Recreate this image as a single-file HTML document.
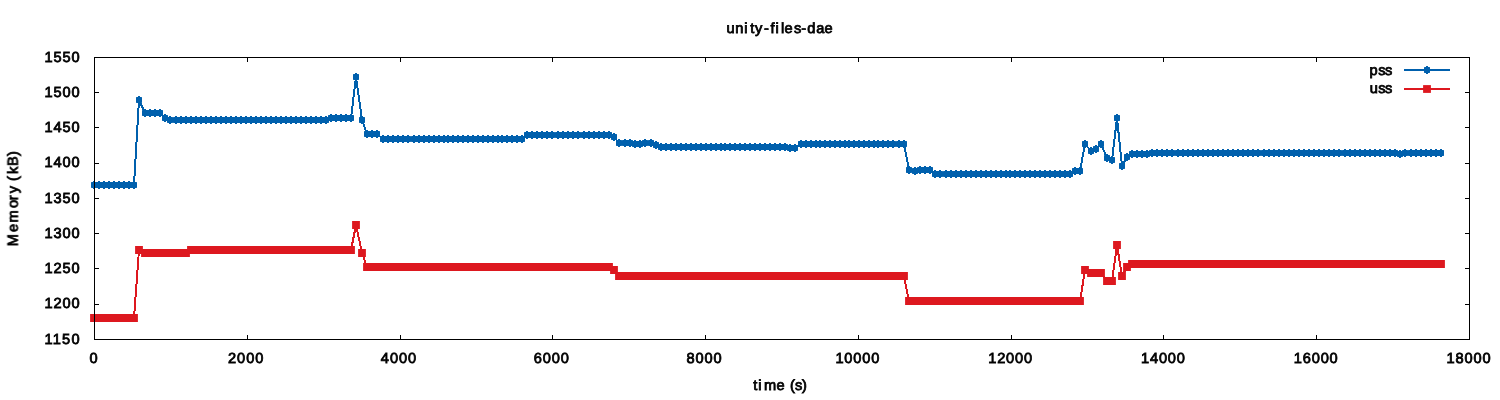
<!DOCTYPE html>
<html><head><meta charset="utf-8"><title>unity-files-dae</title>
<style>
html,body{margin:0;padding:0;background:#fff;}
body{width:1500px;height:400px;overflow:hidden;}
svg{display:block;}
text{font-family:"Liberation Sans",sans-serif;font-size:14.6px;text-rendering:geometricPrecision;fill:#000;stroke:#000;stroke-width:0.8px;}
.tx{filter:grayscale(1);}
</style></head><body>
<svg width="1500" height="400" viewBox="0 0 1500 400">
<rect x="0" y="0" width="1500" height="400" fill="#fff"/>
<g class="tx">
<text x="93.5" y="363.0" text-anchor="middle" textLength="8.4" lengthAdjust="spacing">0</text>
<text x="245.68" y="363.0" text-anchor="middle" textLength="35.2" lengthAdjust="spacing">2000</text>
<text x="398.46" y="363.0" text-anchor="middle" textLength="35.2" lengthAdjust="spacing">4000</text>
<text x="551.23" y="363.0" text-anchor="middle" textLength="35.2" lengthAdjust="spacing">6000</text>
<text x="704.01" y="363.0" text-anchor="middle" textLength="35.2" lengthAdjust="spacing">8000</text>
<text x="857.39" y="363.0" text-anchor="middle" textLength="44" lengthAdjust="spacing">10000</text>
<text x="1010.17" y="363.0" text-anchor="middle" textLength="44" lengthAdjust="spacing">12000</text>
<text x="1162.94" y="363.0" text-anchor="middle" textLength="44" lengthAdjust="spacing">14000</text>
<text x="1315.72" y="363.0" text-anchor="middle" textLength="44" lengthAdjust="spacing">16000</text>
<text x="1468.5" y="363.0" text-anchor="middle" textLength="44" lengthAdjust="spacing">18000</text>
<text x="79.6" y="343.65" text-anchor="end" textLength="35.2" lengthAdjust="spacing">1150</text>
<text x="79.6" y="308.4" text-anchor="end" textLength="35.2" lengthAdjust="spacing">1200</text>
<text x="79.6" y="273.15" text-anchor="end" textLength="35.2" lengthAdjust="spacing">1250</text>
<text x="79.6" y="237.9" text-anchor="end" textLength="35.2" lengthAdjust="spacing">1300</text>
<text x="79.6" y="202.65" text-anchor="end" textLength="35.2" lengthAdjust="spacing">1350</text>
<text x="79.6" y="167.4" text-anchor="end" textLength="35.2" lengthAdjust="spacing">1400</text>
<text x="79.6" y="132.15" text-anchor="end" textLength="35.2" lengthAdjust="spacing">1450</text>
<text x="79.6" y="96.9" text-anchor="end" textLength="35.2" lengthAdjust="spacing">1500</text>
<text x="79.6" y="61.65" text-anchor="end" textLength="35.2" lengthAdjust="spacing">1550</text>
<text x="726.55 735.35 744.35 750.25 754.9 764 770.4 775.5 780.95 784.4 794 801.15 807.2 816.35 824.45" y="32.7">unity-files-dae</text>
<text x="753.35 758.3 764.05 776.55 790.1 795 801.95" y="390">time(s)</text>
<text transform="translate(17.7 300) rotate(-90)" x="53.65 67.9 77.55 92.08 99.75 106.83 118.95 125.93 133.9 143.95" y="0">Memory(kB)</text>
<text x="1369.5 1378.25 1385" y="74.7">pss</text>
<text x="1369.7 1378.25 1385" y="93.4">uss</text>
</g>
<path d="M1404 70H1450" stroke="#0060ad" stroke-width="2" fill="none"/>
<path d="M1426 66h2v1h1.5l.5.5v5l-.5.5h-1.5v1h-2v-1h-1.5l-.5-.5v-5l.5-.5h1.5z" fill="#0060ad"/>
<path d="M1404 89H1450" stroke="#dd181f" stroke-width="2" fill="none"/>
<rect x="1423.1" y="85.1" width="7.8" height="7.8" fill="#dd181f"/>
<path d="M94 185 L99 185 L104 185 L109 185 L114 185 L119 185 L124 185 L129 185 L134 185 L139 100 L145 113 L150 113 L155 113 L160 113 L165 118 L170 120 L176 120 L181 120 L186 120 L191 120 L196 120 L201 120 L206 120 L211 120 L216 120 L221 120 L226 120 L231 120 L236 120 L241 120 L246 120 L251 120 L256 120 L261 120 L266 120 L271 120 L276 120 L281 120 L286 120 L291 120 L296 120 L301 120 L306 120 L311 120 L316 120 L321 120 L326 120 L331 118 L336 118 L341 118 L346 118 L351 118 L356 77 L362 120 L367 134 L372 134 L377 134 L383 139 L388 139 L393 139 L398 139 L403 139 L408 139 L414 139 L419 139 L424 139 L429 139 L434 139 L439 139 L444 139 L448 139 L453 139 L458 139 L463 139 L468 139 L473 139 L478 139 L483 139 L488 139 L493 139 L498 139 L502 139 L507 139 L512 139 L517 139 L522 139 L527 135 L532 135 L537 135 L542 135 L547 135 L552 135 L558 135 L563 135 L568 135 L573 135 L578 135 L584 135 L589 135 L594 135 L599 135 L604 135 L609 135 L614 137 L619 143 L625 143 L630 143 L635 144 L640 144 L645 143 L651 143 L656 145 L661 147 L666 147 L671 147 L676 147 L681 147 L686 147 L691 147 L696 147 L701 147 L706 147 L711 147 L716 147 L721 147 L725 147 L730 147 L735 147 L740 147 L745 147 L750 147 L755 147 L760 147 L765 147 L770 147 L775 147 L780 147 L785 147 L790 148 L795 148 L801 144 L806 144 L811 144 L816 144 L820 144 L825 144 L830 144 L835 144 L840 144 L845 144 L849 144 L854 144 L859 144 L864 144 L869 144 L874 144 L878 144 L883 144 L888 144 L893 144 L899 144 L904 144 L909 170 L915 171 L920 170 L925 170 L930 170 L935 174 L940 174 L946 174 L951 174 L956 174 L961 174 L966 174 L971 174 L976 174 L981 174 L986 174 L991 174 L996 174 L1001 174 L1006 174 L1010 174 L1015 174 L1020 174 L1025 174 L1030 174 L1035 174 L1040 174 L1045 174 L1050 174 L1055 174 L1060 174 L1065 174 L1070 174 L1075 171 L1080 171 L1085 144 L1091 151 L1096 149 L1101 144 L1107 158 L1112 160 L1117 118 L1122 166 L1127 157 L1132 154 L1137 154 L1142 154 L1147 154 L1152 153 L1157 153 L1162 153 L1167 153 L1172 153 L1178 153 L1183 153 L1188 153 L1193 153 L1198 153 L1203 153 L1208 153 L1213 153 L1218 153 L1223 153 L1228 153 L1233 153 L1238 153 L1243 153 L1248 153 L1253 153 L1258 153 L1264 153 L1269 153 L1274 153 L1279 153 L1284 153 L1289 153 L1294 153 L1299 153 L1304 153 L1309 153 L1314 153 L1319 153 L1324 153 L1329 153 L1334 153 L1339 153 L1345 153 L1350 153 L1355 153 L1360 153 L1365 153 L1370 153 L1375 153 L1380 153 L1385 153 L1390 153 L1395 153 L1400 154 L1405 153 L1411 153 L1416 153 L1421 153 L1426 153 L1431 153 L1436 153 L1441 153" stroke="#0060ad" stroke-width="2" fill="none" stroke-linejoin="round" shape-rendering="crispEdges"/>
<path d="M93 181h2v1h1.5l.5.5v5l-.5.5h-1.5v1h-2v-1h-1.5l-.5-.5v-5l.5-.5h1.5zM98 181h2v1h1.5l.5.5v5l-.5.5h-1.5v1h-2v-1h-1.5l-.5-.5v-5l.5-.5h1.5zM103 181h2v1h1.5l.5.5v5l-.5.5h-1.5v1h-2v-1h-1.5l-.5-.5v-5l.5-.5h1.5zM108 181h2v1h1.5l.5.5v5l-.5.5h-1.5v1h-2v-1h-1.5l-.5-.5v-5l.5-.5h1.5zM113 181h2v1h1.5l.5.5v5l-.5.5h-1.5v1h-2v-1h-1.5l-.5-.5v-5l.5-.5h1.5zM118 181h2v1h1.5l.5.5v5l-.5.5h-1.5v1h-2v-1h-1.5l-.5-.5v-5l.5-.5h1.5zM123 181h2v1h1.5l.5.5v5l-.5.5h-1.5v1h-2v-1h-1.5l-.5-.5v-5l.5-.5h1.5zM128 181h2v1h1.5l.5.5v5l-.5.5h-1.5v1h-2v-1h-1.5l-.5-.5v-5l.5-.5h1.5zM133 181h2v1h1.5l.5.5v5l-.5.5h-1.5v1h-2v-1h-1.5l-.5-.5v-5l.5-.5h1.5zM138 96h2v1h1.5l.5.5v5l-.5.5h-1.5v1h-2v-1h-1.5l-.5-.5v-5l.5-.5h1.5zM144 109h2v1h1.5l.5.5v5l-.5.5h-1.5v1h-2v-1h-1.5l-.5-.5v-5l.5-.5h1.5zM149 109h2v1h1.5l.5.5v5l-.5.5h-1.5v1h-2v-1h-1.5l-.5-.5v-5l.5-.5h1.5zM154 109h2v1h1.5l.5.5v5l-.5.5h-1.5v1h-2v-1h-1.5l-.5-.5v-5l.5-.5h1.5zM159 109h2v1h1.5l.5.5v5l-.5.5h-1.5v1h-2v-1h-1.5l-.5-.5v-5l.5-.5h1.5zM164 114h2v1h1.5l.5.5v5l-.5.5h-1.5v1h-2v-1h-1.5l-.5-.5v-5l.5-.5h1.5zM169 116h2v1h1.5l.5.5v5l-.5.5h-1.5v1h-2v-1h-1.5l-.5-.5v-5l.5-.5h1.5zM175 116h2v1h1.5l.5.5v5l-.5.5h-1.5v1h-2v-1h-1.5l-.5-.5v-5l.5-.5h1.5zM180 116h2v1h1.5l.5.5v5l-.5.5h-1.5v1h-2v-1h-1.5l-.5-.5v-5l.5-.5h1.5zM185 116h2v1h1.5l.5.5v5l-.5.5h-1.5v1h-2v-1h-1.5l-.5-.5v-5l.5-.5h1.5zM190 116h2v1h1.5l.5.5v5l-.5.5h-1.5v1h-2v-1h-1.5l-.5-.5v-5l.5-.5h1.5zM195 116h2v1h1.5l.5.5v5l-.5.5h-1.5v1h-2v-1h-1.5l-.5-.5v-5l.5-.5h1.5zM200 116h2v1h1.5l.5.5v5l-.5.5h-1.5v1h-2v-1h-1.5l-.5-.5v-5l.5-.5h1.5zM205 116h2v1h1.5l.5.5v5l-.5.5h-1.5v1h-2v-1h-1.5l-.5-.5v-5l.5-.5h1.5zM210 116h2v1h1.5l.5.5v5l-.5.5h-1.5v1h-2v-1h-1.5l-.5-.5v-5l.5-.5h1.5zM215 116h2v1h1.5l.5.5v5l-.5.5h-1.5v1h-2v-1h-1.5l-.5-.5v-5l.5-.5h1.5zM220 116h2v1h1.5l.5.5v5l-.5.5h-1.5v1h-2v-1h-1.5l-.5-.5v-5l.5-.5h1.5zM225 116h2v1h1.5l.5.5v5l-.5.5h-1.5v1h-2v-1h-1.5l-.5-.5v-5l.5-.5h1.5zM230 116h2v1h1.5l.5.5v5l-.5.5h-1.5v1h-2v-1h-1.5l-.5-.5v-5l.5-.5h1.5zM235 116h2v1h1.5l.5.5v5l-.5.5h-1.5v1h-2v-1h-1.5l-.5-.5v-5l.5-.5h1.5zM240 116h2v1h1.5l.5.5v5l-.5.5h-1.5v1h-2v-1h-1.5l-.5-.5v-5l.5-.5h1.5zM245 116h2v1h1.5l.5.5v5l-.5.5h-1.5v1h-2v-1h-1.5l-.5-.5v-5l.5-.5h1.5zM250 116h2v1h1.5l.5.5v5l-.5.5h-1.5v1h-2v-1h-1.5l-.5-.5v-5l.5-.5h1.5zM255 116h2v1h1.5l.5.5v5l-.5.5h-1.5v1h-2v-1h-1.5l-.5-.5v-5l.5-.5h1.5zM260 116h2v1h1.5l.5.5v5l-.5.5h-1.5v1h-2v-1h-1.5l-.5-.5v-5l.5-.5h1.5zM265 116h2v1h1.5l.5.5v5l-.5.5h-1.5v1h-2v-1h-1.5l-.5-.5v-5l.5-.5h1.5zM270 116h2v1h1.5l.5.5v5l-.5.5h-1.5v1h-2v-1h-1.5l-.5-.5v-5l.5-.5h1.5zM275 116h2v1h1.5l.5.5v5l-.5.5h-1.5v1h-2v-1h-1.5l-.5-.5v-5l.5-.5h1.5zM280 116h2v1h1.5l.5.5v5l-.5.5h-1.5v1h-2v-1h-1.5l-.5-.5v-5l.5-.5h1.5zM285 116h2v1h1.5l.5.5v5l-.5.5h-1.5v1h-2v-1h-1.5l-.5-.5v-5l.5-.5h1.5zM290 116h2v1h1.5l.5.5v5l-.5.5h-1.5v1h-2v-1h-1.5l-.5-.5v-5l.5-.5h1.5zM295 116h2v1h1.5l.5.5v5l-.5.5h-1.5v1h-2v-1h-1.5l-.5-.5v-5l.5-.5h1.5zM300 116h2v1h1.5l.5.5v5l-.5.5h-1.5v1h-2v-1h-1.5l-.5-.5v-5l.5-.5h1.5zM305 116h2v1h1.5l.5.5v5l-.5.5h-1.5v1h-2v-1h-1.5l-.5-.5v-5l.5-.5h1.5zM310 116h2v1h1.5l.5.5v5l-.5.5h-1.5v1h-2v-1h-1.5l-.5-.5v-5l.5-.5h1.5zM315 116h2v1h1.5l.5.5v5l-.5.5h-1.5v1h-2v-1h-1.5l-.5-.5v-5l.5-.5h1.5zM320 116h2v1h1.5l.5.5v5l-.5.5h-1.5v1h-2v-1h-1.5l-.5-.5v-5l.5-.5h1.5zM325 116h2v1h1.5l.5.5v5l-.5.5h-1.5v1h-2v-1h-1.5l-.5-.5v-5l.5-.5h1.5zM330 114h2v1h1.5l.5.5v5l-.5.5h-1.5v1h-2v-1h-1.5l-.5-.5v-5l.5-.5h1.5zM335 114h2v1h1.5l.5.5v5l-.5.5h-1.5v1h-2v-1h-1.5l-.5-.5v-5l.5-.5h1.5zM340 114h2v1h1.5l.5.5v5l-.5.5h-1.5v1h-2v-1h-1.5l-.5-.5v-5l.5-.5h1.5zM345 114h2v1h1.5l.5.5v5l-.5.5h-1.5v1h-2v-1h-1.5l-.5-.5v-5l.5-.5h1.5zM350 114h2v1h1.5l.5.5v5l-.5.5h-1.5v1h-2v-1h-1.5l-.5-.5v-5l.5-.5h1.5zM355 73h2v1h1.5l.5.5v5l-.5.5h-1.5v1h-2v-1h-1.5l-.5-.5v-5l.5-.5h1.5zM361 116h2v1h1.5l.5.5v5l-.5.5h-1.5v1h-2v-1h-1.5l-.5-.5v-5l.5-.5h1.5zM366 130h2v1h1.5l.5.5v5l-.5.5h-1.5v1h-2v-1h-1.5l-.5-.5v-5l.5-.5h1.5zM371 130h2v1h1.5l.5.5v5l-.5.5h-1.5v1h-2v-1h-1.5l-.5-.5v-5l.5-.5h1.5zM376 130h2v1h1.5l.5.5v5l-.5.5h-1.5v1h-2v-1h-1.5l-.5-.5v-5l.5-.5h1.5zM382 135h2v1h1.5l.5.5v5l-.5.5h-1.5v1h-2v-1h-1.5l-.5-.5v-5l.5-.5h1.5zM387 135h2v1h1.5l.5.5v5l-.5.5h-1.5v1h-2v-1h-1.5l-.5-.5v-5l.5-.5h1.5zM392 135h2v1h1.5l.5.5v5l-.5.5h-1.5v1h-2v-1h-1.5l-.5-.5v-5l.5-.5h1.5zM397 135h2v1h1.5l.5.5v5l-.5.5h-1.5v1h-2v-1h-1.5l-.5-.5v-5l.5-.5h1.5zM402 135h2v1h1.5l.5.5v5l-.5.5h-1.5v1h-2v-1h-1.5l-.5-.5v-5l.5-.5h1.5zM407 135h2v1h1.5l.5.5v5l-.5.5h-1.5v1h-2v-1h-1.5l-.5-.5v-5l.5-.5h1.5zM413 135h2v1h1.5l.5.5v5l-.5.5h-1.5v1h-2v-1h-1.5l-.5-.5v-5l.5-.5h1.5zM418 135h2v1h1.5l.5.5v5l-.5.5h-1.5v1h-2v-1h-1.5l-.5-.5v-5l.5-.5h1.5zM423 135h2v1h1.5l.5.5v5l-.5.5h-1.5v1h-2v-1h-1.5l-.5-.5v-5l.5-.5h1.5zM428 135h2v1h1.5l.5.5v5l-.5.5h-1.5v1h-2v-1h-1.5l-.5-.5v-5l.5-.5h1.5zM433 135h2v1h1.5l.5.5v5l-.5.5h-1.5v1h-2v-1h-1.5l-.5-.5v-5l.5-.5h1.5zM438 135h2v1h1.5l.5.5v5l-.5.5h-1.5v1h-2v-1h-1.5l-.5-.5v-5l.5-.5h1.5zM443 135h2v1h1.5l.5.5v5l-.5.5h-1.5v1h-2v-1h-1.5l-.5-.5v-5l.5-.5h1.5zM447 135h2v1h1.5l.5.5v5l-.5.5h-1.5v1h-2v-1h-1.5l-.5-.5v-5l.5-.5h1.5zM452 135h2v1h1.5l.5.5v5l-.5.5h-1.5v1h-2v-1h-1.5l-.5-.5v-5l.5-.5h1.5zM457 135h2v1h1.5l.5.5v5l-.5.5h-1.5v1h-2v-1h-1.5l-.5-.5v-5l.5-.5h1.5zM462 135h2v1h1.5l.5.5v5l-.5.5h-1.5v1h-2v-1h-1.5l-.5-.5v-5l.5-.5h1.5zM467 135h2v1h1.5l.5.5v5l-.5.5h-1.5v1h-2v-1h-1.5l-.5-.5v-5l.5-.5h1.5zM472 135h2v1h1.5l.5.5v5l-.5.5h-1.5v1h-2v-1h-1.5l-.5-.5v-5l.5-.5h1.5zM477 135h2v1h1.5l.5.5v5l-.5.5h-1.5v1h-2v-1h-1.5l-.5-.5v-5l.5-.5h1.5zM482 135h2v1h1.5l.5.5v5l-.5.5h-1.5v1h-2v-1h-1.5l-.5-.5v-5l.5-.5h1.5zM487 135h2v1h1.5l.5.5v5l-.5.5h-1.5v1h-2v-1h-1.5l-.5-.5v-5l.5-.5h1.5zM492 135h2v1h1.5l.5.5v5l-.5.5h-1.5v1h-2v-1h-1.5l-.5-.5v-5l.5-.5h1.5zM497 135h2v1h1.5l.5.5v5l-.5.5h-1.5v1h-2v-1h-1.5l-.5-.5v-5l.5-.5h1.5zM501 135h2v1h1.5l.5.5v5l-.5.5h-1.5v1h-2v-1h-1.5l-.5-.5v-5l.5-.5h1.5zM506 135h2v1h1.5l.5.5v5l-.5.5h-1.5v1h-2v-1h-1.5l-.5-.5v-5l.5-.5h1.5zM511 135h2v1h1.5l.5.5v5l-.5.5h-1.5v1h-2v-1h-1.5l-.5-.5v-5l.5-.5h1.5zM516 135h2v1h1.5l.5.5v5l-.5.5h-1.5v1h-2v-1h-1.5l-.5-.5v-5l.5-.5h1.5zM521 135h2v1h1.5l.5.5v5l-.5.5h-1.5v1h-2v-1h-1.5l-.5-.5v-5l.5-.5h1.5zM526 131h2v1h1.5l.5.5v5l-.5.5h-1.5v1h-2v-1h-1.5l-.5-.5v-5l.5-.5h1.5zM531 131h2v1h1.5l.5.5v5l-.5.5h-1.5v1h-2v-1h-1.5l-.5-.5v-5l.5-.5h1.5zM536 131h2v1h1.5l.5.5v5l-.5.5h-1.5v1h-2v-1h-1.5l-.5-.5v-5l.5-.5h1.5zM541 131h2v1h1.5l.5.5v5l-.5.5h-1.5v1h-2v-1h-1.5l-.5-.5v-5l.5-.5h1.5zM546 131h2v1h1.5l.5.5v5l-.5.5h-1.5v1h-2v-1h-1.5l-.5-.5v-5l.5-.5h1.5zM551 131h2v1h1.5l.5.5v5l-.5.5h-1.5v1h-2v-1h-1.5l-.5-.5v-5l.5-.5h1.5zM557 131h2v1h1.5l.5.5v5l-.5.5h-1.5v1h-2v-1h-1.5l-.5-.5v-5l.5-.5h1.5zM562 131h2v1h1.5l.5.5v5l-.5.5h-1.5v1h-2v-1h-1.5l-.5-.5v-5l.5-.5h1.5zM567 131h2v1h1.5l.5.5v5l-.5.5h-1.5v1h-2v-1h-1.5l-.5-.5v-5l.5-.5h1.5zM572 131h2v1h1.5l.5.5v5l-.5.5h-1.5v1h-2v-1h-1.5l-.5-.5v-5l.5-.5h1.5zM577 131h2v1h1.5l.5.5v5l-.5.5h-1.5v1h-2v-1h-1.5l-.5-.5v-5l.5-.5h1.5zM583 131h2v1h1.5l.5.5v5l-.5.5h-1.5v1h-2v-1h-1.5l-.5-.5v-5l.5-.5h1.5zM588 131h2v1h1.5l.5.5v5l-.5.5h-1.5v1h-2v-1h-1.5l-.5-.5v-5l.5-.5h1.5zM593 131h2v1h1.5l.5.5v5l-.5.5h-1.5v1h-2v-1h-1.5l-.5-.5v-5l.5-.5h1.5zM598 131h2v1h1.5l.5.5v5l-.5.5h-1.5v1h-2v-1h-1.5l-.5-.5v-5l.5-.5h1.5zM603 131h2v1h1.5l.5.5v5l-.5.5h-1.5v1h-2v-1h-1.5l-.5-.5v-5l.5-.5h1.5zM608 131h2v1h1.5l.5.5v5l-.5.5h-1.5v1h-2v-1h-1.5l-.5-.5v-5l.5-.5h1.5zM613 133h2v1h1.5l.5.5v5l-.5.5h-1.5v1h-2v-1h-1.5l-.5-.5v-5l.5-.5h1.5zM618 139h2v1h1.5l.5.5v5l-.5.5h-1.5v1h-2v-1h-1.5l-.5-.5v-5l.5-.5h1.5zM624 139h2v1h1.5l.5.5v5l-.5.5h-1.5v1h-2v-1h-1.5l-.5-.5v-5l.5-.5h1.5zM629 139h2v1h1.5l.5.5v5l-.5.5h-1.5v1h-2v-1h-1.5l-.5-.5v-5l.5-.5h1.5zM634 140h2v1h1.5l.5.5v5l-.5.5h-1.5v1h-2v-1h-1.5l-.5-.5v-5l.5-.5h1.5zM639 140h2v1h1.5l.5.5v5l-.5.5h-1.5v1h-2v-1h-1.5l-.5-.5v-5l.5-.5h1.5zM644 139h2v1h1.5l.5.5v5l-.5.5h-1.5v1h-2v-1h-1.5l-.5-.5v-5l.5-.5h1.5zM650 139h2v1h1.5l.5.5v5l-.5.5h-1.5v1h-2v-1h-1.5l-.5-.5v-5l.5-.5h1.5zM655 141h2v1h1.5l.5.5v5l-.5.5h-1.5v1h-2v-1h-1.5l-.5-.5v-5l.5-.5h1.5zM660 143h2v1h1.5l.5.5v5l-.5.5h-1.5v1h-2v-1h-1.5l-.5-.5v-5l.5-.5h1.5zM665 143h2v1h1.5l.5.5v5l-.5.5h-1.5v1h-2v-1h-1.5l-.5-.5v-5l.5-.5h1.5zM670 143h2v1h1.5l.5.5v5l-.5.5h-1.5v1h-2v-1h-1.5l-.5-.5v-5l.5-.5h1.5zM675 143h2v1h1.5l.5.5v5l-.5.5h-1.5v1h-2v-1h-1.5l-.5-.5v-5l.5-.5h1.5zM680 143h2v1h1.5l.5.5v5l-.5.5h-1.5v1h-2v-1h-1.5l-.5-.5v-5l.5-.5h1.5zM685 143h2v1h1.5l.5.5v5l-.5.5h-1.5v1h-2v-1h-1.5l-.5-.5v-5l.5-.5h1.5zM690 143h2v1h1.5l.5.5v5l-.5.5h-1.5v1h-2v-1h-1.5l-.5-.5v-5l.5-.5h1.5zM695 143h2v1h1.5l.5.5v5l-.5.5h-1.5v1h-2v-1h-1.5l-.5-.5v-5l.5-.5h1.5zM700 143h2v1h1.5l.5.5v5l-.5.5h-1.5v1h-2v-1h-1.5l-.5-.5v-5l.5-.5h1.5zM705 143h2v1h1.5l.5.5v5l-.5.5h-1.5v1h-2v-1h-1.5l-.5-.5v-5l.5-.5h1.5zM710 143h2v1h1.5l.5.5v5l-.5.5h-1.5v1h-2v-1h-1.5l-.5-.5v-5l.5-.5h1.5zM715 143h2v1h1.5l.5.5v5l-.5.5h-1.5v1h-2v-1h-1.5l-.5-.5v-5l.5-.5h1.5zM720 143h2v1h1.5l.5.5v5l-.5.5h-1.5v1h-2v-1h-1.5l-.5-.5v-5l.5-.5h1.5zM724 143h2v1h1.5l.5.5v5l-.5.5h-1.5v1h-2v-1h-1.5l-.5-.5v-5l.5-.5h1.5zM729 143h2v1h1.5l.5.5v5l-.5.5h-1.5v1h-2v-1h-1.5l-.5-.5v-5l.5-.5h1.5zM734 143h2v1h1.5l.5.5v5l-.5.5h-1.5v1h-2v-1h-1.5l-.5-.5v-5l.5-.5h1.5zM739 143h2v1h1.5l.5.5v5l-.5.5h-1.5v1h-2v-1h-1.5l-.5-.5v-5l.5-.5h1.5zM744 143h2v1h1.5l.5.5v5l-.5.5h-1.5v1h-2v-1h-1.5l-.5-.5v-5l.5-.5h1.5zM749 143h2v1h1.5l.5.5v5l-.5.5h-1.5v1h-2v-1h-1.5l-.5-.5v-5l.5-.5h1.5zM754 143h2v1h1.5l.5.5v5l-.5.5h-1.5v1h-2v-1h-1.5l-.5-.5v-5l.5-.5h1.5zM759 143h2v1h1.5l.5.5v5l-.5.5h-1.5v1h-2v-1h-1.5l-.5-.5v-5l.5-.5h1.5zM764 143h2v1h1.5l.5.5v5l-.5.5h-1.5v1h-2v-1h-1.5l-.5-.5v-5l.5-.5h1.5zM769 143h2v1h1.5l.5.5v5l-.5.5h-1.5v1h-2v-1h-1.5l-.5-.5v-5l.5-.5h1.5zM774 143h2v1h1.5l.5.5v5l-.5.5h-1.5v1h-2v-1h-1.5l-.5-.5v-5l.5-.5h1.5zM779 143h2v1h1.5l.5.5v5l-.5.5h-1.5v1h-2v-1h-1.5l-.5-.5v-5l.5-.5h1.5zM784 143h2v1h1.5l.5.5v5l-.5.5h-1.5v1h-2v-1h-1.5l-.5-.5v-5l.5-.5h1.5zM789 144h2v1h1.5l.5.5v5l-.5.5h-1.5v1h-2v-1h-1.5l-.5-.5v-5l.5-.5h1.5zM794 144h2v1h1.5l.5.5v5l-.5.5h-1.5v1h-2v-1h-1.5l-.5-.5v-5l.5-.5h1.5zM800 140h2v1h1.5l.5.5v5l-.5.5h-1.5v1h-2v-1h-1.5l-.5-.5v-5l.5-.5h1.5zM805 140h2v1h1.5l.5.5v5l-.5.5h-1.5v1h-2v-1h-1.5l-.5-.5v-5l.5-.5h1.5zM810 140h2v1h1.5l.5.5v5l-.5.5h-1.5v1h-2v-1h-1.5l-.5-.5v-5l.5-.5h1.5zM815 140h2v1h1.5l.5.5v5l-.5.5h-1.5v1h-2v-1h-1.5l-.5-.5v-5l.5-.5h1.5zM819 140h2v1h1.5l.5.5v5l-.5.5h-1.5v1h-2v-1h-1.5l-.5-.5v-5l.5-.5h1.5zM824 140h2v1h1.5l.5.5v5l-.5.5h-1.5v1h-2v-1h-1.5l-.5-.5v-5l.5-.5h1.5zM829 140h2v1h1.5l.5.5v5l-.5.5h-1.5v1h-2v-1h-1.5l-.5-.5v-5l.5-.5h1.5zM834 140h2v1h1.5l.5.5v5l-.5.5h-1.5v1h-2v-1h-1.5l-.5-.5v-5l.5-.5h1.5zM839 140h2v1h1.5l.5.5v5l-.5.5h-1.5v1h-2v-1h-1.5l-.5-.5v-5l.5-.5h1.5zM844 140h2v1h1.5l.5.5v5l-.5.5h-1.5v1h-2v-1h-1.5l-.5-.5v-5l.5-.5h1.5zM848 140h2v1h1.5l.5.5v5l-.5.5h-1.5v1h-2v-1h-1.5l-.5-.5v-5l.5-.5h1.5zM853 140h2v1h1.5l.5.5v5l-.5.5h-1.5v1h-2v-1h-1.5l-.5-.5v-5l.5-.5h1.5zM858 140h2v1h1.5l.5.5v5l-.5.5h-1.5v1h-2v-1h-1.5l-.5-.5v-5l.5-.5h1.5zM863 140h2v1h1.5l.5.5v5l-.5.5h-1.5v1h-2v-1h-1.5l-.5-.5v-5l.5-.5h1.5zM868 140h2v1h1.5l.5.5v5l-.5.5h-1.5v1h-2v-1h-1.5l-.5-.5v-5l.5-.5h1.5zM873 140h2v1h1.5l.5.5v5l-.5.5h-1.5v1h-2v-1h-1.5l-.5-.5v-5l.5-.5h1.5zM877 140h2v1h1.5l.5.5v5l-.5.5h-1.5v1h-2v-1h-1.5l-.5-.5v-5l.5-.5h1.5zM882 140h2v1h1.5l.5.5v5l-.5.5h-1.5v1h-2v-1h-1.5l-.5-.5v-5l.5-.5h1.5zM887 140h2v1h1.5l.5.5v5l-.5.5h-1.5v1h-2v-1h-1.5l-.5-.5v-5l.5-.5h1.5zM892 140h2v1h1.5l.5.5v5l-.5.5h-1.5v1h-2v-1h-1.5l-.5-.5v-5l.5-.5h1.5zM898 140h2v1h1.5l.5.5v5l-.5.5h-1.5v1h-2v-1h-1.5l-.5-.5v-5l.5-.5h1.5zM903 140h2v1h1.5l.5.5v5l-.5.5h-1.5v1h-2v-1h-1.5l-.5-.5v-5l.5-.5h1.5zM908 166h2v1h1.5l.5.5v5l-.5.5h-1.5v1h-2v-1h-1.5l-.5-.5v-5l.5-.5h1.5zM914 167h2v1h1.5l.5.5v5l-.5.5h-1.5v1h-2v-1h-1.5l-.5-.5v-5l.5-.5h1.5zM919 166h2v1h1.5l.5.5v5l-.5.5h-1.5v1h-2v-1h-1.5l-.5-.5v-5l.5-.5h1.5zM924 166h2v1h1.5l.5.5v5l-.5.5h-1.5v1h-2v-1h-1.5l-.5-.5v-5l.5-.5h1.5zM929 166h2v1h1.5l.5.5v5l-.5.5h-1.5v1h-2v-1h-1.5l-.5-.5v-5l.5-.5h1.5zM934 170h2v1h1.5l.5.5v5l-.5.5h-1.5v1h-2v-1h-1.5l-.5-.5v-5l.5-.5h1.5zM939 170h2v1h1.5l.5.5v5l-.5.5h-1.5v1h-2v-1h-1.5l-.5-.5v-5l.5-.5h1.5zM945 170h2v1h1.5l.5.5v5l-.5.5h-1.5v1h-2v-1h-1.5l-.5-.5v-5l.5-.5h1.5zM950 170h2v1h1.5l.5.5v5l-.5.5h-1.5v1h-2v-1h-1.5l-.5-.5v-5l.5-.5h1.5zM955 170h2v1h1.5l.5.5v5l-.5.5h-1.5v1h-2v-1h-1.5l-.5-.5v-5l.5-.5h1.5zM960 170h2v1h1.5l.5.5v5l-.5.5h-1.5v1h-2v-1h-1.5l-.5-.5v-5l.5-.5h1.5zM965 170h2v1h1.5l.5.5v5l-.5.5h-1.5v1h-2v-1h-1.5l-.5-.5v-5l.5-.5h1.5zM970 170h2v1h1.5l.5.5v5l-.5.5h-1.5v1h-2v-1h-1.5l-.5-.5v-5l.5-.5h1.5zM975 170h2v1h1.5l.5.5v5l-.5.5h-1.5v1h-2v-1h-1.5l-.5-.5v-5l.5-.5h1.5zM980 170h2v1h1.5l.5.5v5l-.5.5h-1.5v1h-2v-1h-1.5l-.5-.5v-5l.5-.5h1.5zM985 170h2v1h1.5l.5.5v5l-.5.5h-1.5v1h-2v-1h-1.5l-.5-.5v-5l.5-.5h1.5zM990 170h2v1h1.5l.5.5v5l-.5.5h-1.5v1h-2v-1h-1.5l-.5-.5v-5l.5-.5h1.5zM995 170h2v1h1.5l.5.5v5l-.5.5h-1.5v1h-2v-1h-1.5l-.5-.5v-5l.5-.5h1.5zM1000 170h2v1h1.5l.5.5v5l-.5.5h-1.5v1h-2v-1h-1.5l-.5-.5v-5l.5-.5h1.5zM1005 170h2v1h1.5l.5.5v5l-.5.5h-1.5v1h-2v-1h-1.5l-.5-.5v-5l.5-.5h1.5zM1009 170h2v1h1.5l.5.5v5l-.5.5h-1.5v1h-2v-1h-1.5l-.5-.5v-5l.5-.5h1.5zM1014 170h2v1h1.5l.5.5v5l-.5.5h-1.5v1h-2v-1h-1.5l-.5-.5v-5l.5-.5h1.5zM1019 170h2v1h1.5l.5.5v5l-.5.5h-1.5v1h-2v-1h-1.5l-.5-.5v-5l.5-.5h1.5zM1024 170h2v1h1.5l.5.5v5l-.5.5h-1.5v1h-2v-1h-1.5l-.5-.5v-5l.5-.5h1.5zM1029 170h2v1h1.5l.5.5v5l-.5.5h-1.5v1h-2v-1h-1.5l-.5-.5v-5l.5-.5h1.5zM1034 170h2v1h1.5l.5.5v5l-.5.5h-1.5v1h-2v-1h-1.5l-.5-.5v-5l.5-.5h1.5zM1039 170h2v1h1.5l.5.5v5l-.5.5h-1.5v1h-2v-1h-1.5l-.5-.5v-5l.5-.5h1.5zM1044 170h2v1h1.5l.5.5v5l-.5.5h-1.5v1h-2v-1h-1.5l-.5-.5v-5l.5-.5h1.5zM1049 170h2v1h1.5l.5.5v5l-.5.5h-1.5v1h-2v-1h-1.5l-.5-.5v-5l.5-.5h1.5zM1054 170h2v1h1.5l.5.5v5l-.5.5h-1.5v1h-2v-1h-1.5l-.5-.5v-5l.5-.5h1.5zM1059 170h2v1h1.5l.5.5v5l-.5.5h-1.5v1h-2v-1h-1.5l-.5-.5v-5l.5-.5h1.5zM1064 170h2v1h1.5l.5.5v5l-.5.5h-1.5v1h-2v-1h-1.5l-.5-.5v-5l.5-.5h1.5zM1069 170h2v1h1.5l.5.5v5l-.5.5h-1.5v1h-2v-1h-1.5l-.5-.5v-5l.5-.5h1.5zM1074 167h2v1h1.5l.5.5v5l-.5.5h-1.5v1h-2v-1h-1.5l-.5-.5v-5l.5-.5h1.5zM1079 167h2v1h1.5l.5.5v5l-.5.5h-1.5v1h-2v-1h-1.5l-.5-.5v-5l.5-.5h1.5zM1084 140h2v1h1.5l.5.5v5l-.5.5h-1.5v1h-2v-1h-1.5l-.5-.5v-5l.5-.5h1.5zM1090 147h2v1h1.5l.5.5v5l-.5.5h-1.5v1h-2v-1h-1.5l-.5-.5v-5l.5-.5h1.5zM1095 145h2v1h1.5l.5.5v5l-.5.5h-1.5v1h-2v-1h-1.5l-.5-.5v-5l.5-.5h1.5zM1100 140h2v1h1.5l.5.5v5l-.5.5h-1.5v1h-2v-1h-1.5l-.5-.5v-5l.5-.5h1.5zM1106 154h2v1h1.5l.5.5v5l-.5.5h-1.5v1h-2v-1h-1.5l-.5-.5v-5l.5-.5h1.5zM1111 156h2v1h1.5l.5.5v5l-.5.5h-1.5v1h-2v-1h-1.5l-.5-.5v-5l.5-.5h1.5zM1116 114h2v1h1.5l.5.5v5l-.5.5h-1.5v1h-2v-1h-1.5l-.5-.5v-5l.5-.5h1.5zM1121 162h2v1h1.5l.5.5v5l-.5.5h-1.5v1h-2v-1h-1.5l-.5-.5v-5l.5-.5h1.5zM1126 153h2v1h1.5l.5.5v5l-.5.5h-1.5v1h-2v-1h-1.5l-.5-.5v-5l.5-.5h1.5zM1131 150h2v1h1.5l.5.5v5l-.5.5h-1.5v1h-2v-1h-1.5l-.5-.5v-5l.5-.5h1.5zM1136 150h2v1h1.5l.5.5v5l-.5.5h-1.5v1h-2v-1h-1.5l-.5-.5v-5l.5-.5h1.5zM1141 150h2v1h1.5l.5.5v5l-.5.5h-1.5v1h-2v-1h-1.5l-.5-.5v-5l.5-.5h1.5zM1146 150h2v1h1.5l.5.5v5l-.5.5h-1.5v1h-2v-1h-1.5l-.5-.5v-5l.5-.5h1.5zM1151 149h2v1h1.5l.5.5v5l-.5.5h-1.5v1h-2v-1h-1.5l-.5-.5v-5l.5-.5h1.5zM1156 149h2v1h1.5l.5.5v5l-.5.5h-1.5v1h-2v-1h-1.5l-.5-.5v-5l.5-.5h1.5zM1161 149h2v1h1.5l.5.5v5l-.5.5h-1.5v1h-2v-1h-1.5l-.5-.5v-5l.5-.5h1.5zM1166 149h2v1h1.5l.5.5v5l-.5.5h-1.5v1h-2v-1h-1.5l-.5-.5v-5l.5-.5h1.5zM1171 149h2v1h1.5l.5.5v5l-.5.5h-1.5v1h-2v-1h-1.5l-.5-.5v-5l.5-.5h1.5zM1177 149h2v1h1.5l.5.5v5l-.5.5h-1.5v1h-2v-1h-1.5l-.5-.5v-5l.5-.5h1.5zM1182 149h2v1h1.5l.5.5v5l-.5.5h-1.5v1h-2v-1h-1.5l-.5-.5v-5l.5-.5h1.5zM1187 149h2v1h1.5l.5.5v5l-.5.5h-1.5v1h-2v-1h-1.5l-.5-.5v-5l.5-.5h1.5zM1192 149h2v1h1.5l.5.5v5l-.5.5h-1.5v1h-2v-1h-1.5l-.5-.5v-5l.5-.5h1.5zM1197 149h2v1h1.5l.5.5v5l-.5.5h-1.5v1h-2v-1h-1.5l-.5-.5v-5l.5-.5h1.5zM1202 149h2v1h1.5l.5.5v5l-.5.5h-1.5v1h-2v-1h-1.5l-.5-.5v-5l.5-.5h1.5zM1207 149h2v1h1.5l.5.5v5l-.5.5h-1.5v1h-2v-1h-1.5l-.5-.5v-5l.5-.5h1.5zM1212 149h2v1h1.5l.5.5v5l-.5.5h-1.5v1h-2v-1h-1.5l-.5-.5v-5l.5-.5h1.5zM1217 149h2v1h1.5l.5.5v5l-.5.5h-1.5v1h-2v-1h-1.5l-.5-.5v-5l.5-.5h1.5zM1222 149h2v1h1.5l.5.5v5l-.5.5h-1.5v1h-2v-1h-1.5l-.5-.5v-5l.5-.5h1.5zM1227 149h2v1h1.5l.5.5v5l-.5.5h-1.5v1h-2v-1h-1.5l-.5-.5v-5l.5-.5h1.5zM1232 149h2v1h1.5l.5.5v5l-.5.5h-1.5v1h-2v-1h-1.5l-.5-.5v-5l.5-.5h1.5zM1237 149h2v1h1.5l.5.5v5l-.5.5h-1.5v1h-2v-1h-1.5l-.5-.5v-5l.5-.5h1.5zM1242 149h2v1h1.5l.5.5v5l-.5.5h-1.5v1h-2v-1h-1.5l-.5-.5v-5l.5-.5h1.5zM1247 149h2v1h1.5l.5.5v5l-.5.5h-1.5v1h-2v-1h-1.5l-.5-.5v-5l.5-.5h1.5zM1252 149h2v1h1.5l.5.5v5l-.5.5h-1.5v1h-2v-1h-1.5l-.5-.5v-5l.5-.5h1.5zM1257 149h2v1h1.5l.5.5v5l-.5.5h-1.5v1h-2v-1h-1.5l-.5-.5v-5l.5-.5h1.5zM1263 149h2v1h1.5l.5.5v5l-.5.5h-1.5v1h-2v-1h-1.5l-.5-.5v-5l.5-.5h1.5zM1268 149h2v1h1.5l.5.5v5l-.5.5h-1.5v1h-2v-1h-1.5l-.5-.5v-5l.5-.5h1.5zM1273 149h2v1h1.5l.5.5v5l-.5.5h-1.5v1h-2v-1h-1.5l-.5-.5v-5l.5-.5h1.5zM1278 149h2v1h1.5l.5.5v5l-.5.5h-1.5v1h-2v-1h-1.5l-.5-.5v-5l.5-.5h1.5zM1283 149h2v1h1.5l.5.5v5l-.5.5h-1.5v1h-2v-1h-1.5l-.5-.5v-5l.5-.5h1.5zM1288 149h2v1h1.5l.5.5v5l-.5.5h-1.5v1h-2v-1h-1.5l-.5-.5v-5l.5-.5h1.5zM1293 149h2v1h1.5l.5.5v5l-.5.5h-1.5v1h-2v-1h-1.5l-.5-.5v-5l.5-.5h1.5zM1298 149h2v1h1.5l.5.5v5l-.5.5h-1.5v1h-2v-1h-1.5l-.5-.5v-5l.5-.5h1.5zM1303 149h2v1h1.5l.5.5v5l-.5.5h-1.5v1h-2v-1h-1.5l-.5-.5v-5l.5-.5h1.5zM1308 149h2v1h1.5l.5.5v5l-.5.5h-1.5v1h-2v-1h-1.5l-.5-.5v-5l.5-.5h1.5zM1313 149h2v1h1.5l.5.5v5l-.5.5h-1.5v1h-2v-1h-1.5l-.5-.5v-5l.5-.5h1.5zM1318 149h2v1h1.5l.5.5v5l-.5.5h-1.5v1h-2v-1h-1.5l-.5-.5v-5l.5-.5h1.5zM1323 149h2v1h1.5l.5.5v5l-.5.5h-1.5v1h-2v-1h-1.5l-.5-.5v-5l.5-.5h1.5zM1328 149h2v1h1.5l.5.5v5l-.5.5h-1.5v1h-2v-1h-1.5l-.5-.5v-5l.5-.5h1.5zM1333 149h2v1h1.5l.5.5v5l-.5.5h-1.5v1h-2v-1h-1.5l-.5-.5v-5l.5-.5h1.5zM1338 149h2v1h1.5l.5.5v5l-.5.5h-1.5v1h-2v-1h-1.5l-.5-.5v-5l.5-.5h1.5zM1344 149h2v1h1.5l.5.5v5l-.5.5h-1.5v1h-2v-1h-1.5l-.5-.5v-5l.5-.5h1.5zM1349 149h2v1h1.5l.5.5v5l-.5.5h-1.5v1h-2v-1h-1.5l-.5-.5v-5l.5-.5h1.5zM1354 149h2v1h1.5l.5.5v5l-.5.5h-1.5v1h-2v-1h-1.5l-.5-.5v-5l.5-.5h1.5zM1359 149h2v1h1.5l.5.5v5l-.5.5h-1.5v1h-2v-1h-1.5l-.5-.5v-5l.5-.5h1.5zM1364 149h2v1h1.5l.5.5v5l-.5.5h-1.5v1h-2v-1h-1.5l-.5-.5v-5l.5-.5h1.5zM1369 149h2v1h1.5l.5.5v5l-.5.5h-1.5v1h-2v-1h-1.5l-.5-.5v-5l.5-.5h1.5zM1374 149h2v1h1.5l.5.5v5l-.5.5h-1.5v1h-2v-1h-1.5l-.5-.5v-5l.5-.5h1.5zM1379 149h2v1h1.5l.5.5v5l-.5.5h-1.5v1h-2v-1h-1.5l-.5-.5v-5l.5-.5h1.5zM1384 149h2v1h1.5l.5.5v5l-.5.5h-1.5v1h-2v-1h-1.5l-.5-.5v-5l.5-.5h1.5zM1389 149h2v1h1.5l.5.5v5l-.5.5h-1.5v1h-2v-1h-1.5l-.5-.5v-5l.5-.5h1.5zM1394 149h2v1h1.5l.5.5v5l-.5.5h-1.5v1h-2v-1h-1.5l-.5-.5v-5l.5-.5h1.5zM1399 150h2v1h1.5l.5.5v5l-.5.5h-1.5v1h-2v-1h-1.5l-.5-.5v-5l.5-.5h1.5zM1404 149h2v1h1.5l.5.5v5l-.5.5h-1.5v1h-2v-1h-1.5l-.5-.5v-5l.5-.5h1.5zM1410 149h2v1h1.5l.5.5v5l-.5.5h-1.5v1h-2v-1h-1.5l-.5-.5v-5l.5-.5h1.5zM1415 149h2v1h1.5l.5.5v5l-.5.5h-1.5v1h-2v-1h-1.5l-.5-.5v-5l.5-.5h1.5zM1420 149h2v1h1.5l.5.5v5l-.5.5h-1.5v1h-2v-1h-1.5l-.5-.5v-5l.5-.5h1.5zM1425 149h2v1h1.5l.5.5v5l-.5.5h-1.5v1h-2v-1h-1.5l-.5-.5v-5l.5-.5h1.5zM1430 149h2v1h1.5l.5.5v5l-.5.5h-1.5v1h-2v-1h-1.5l-.5-.5v-5l.5-.5h1.5zM1435 149h2v1h1.5l.5.5v5l-.5.5h-1.5v1h-2v-1h-1.5l-.5-.5v-5l.5-.5h1.5zM1440 149h2v1h1.5l.5.5v5l-.5.5h-1.5v1h-2v-1h-1.5l-.5-.5v-5l.5-.5h1.5z" fill="#0060ad" stroke="none"/>
<path d="M94 318 L99 318 L104 318 L109 318 L114 318 L119 318 L124 318 L129 318 L134 318 L139 250 L145 253 L150 253 L155 253 L160 253 L165 253 L170 253 L176 253 L181 253 L186 253 L191 250 L196 250 L201 250 L206 250 L211 250 L216 250 L221 250 L226 250 L231 250 L236 250 L241 250 L246 250 L251 250 L256 250 L261 250 L266 250 L271 250 L276 250 L281 250 L286 250 L291 250 L296 250 L301 250 L306 250 L311 250 L316 250 L321 250 L326 250 L331 250 L336 250 L341 250 L346 250 L351 250 L356 225 L362 253 L367 267 L372 267 L377 267 L383 267 L388 267 L393 267 L398 267 L403 267 L408 267 L414 267 L419 267 L424 267 L429 267 L434 267 L439 267 L444 267 L448 267 L453 267 L458 267 L463 267 L468 267 L473 267 L478 267 L483 267 L488 267 L493 267 L498 267 L502 267 L507 267 L512 267 L517 267 L522 267 L527 267 L532 267 L537 267 L542 267 L547 267 L552 267 L558 267 L563 267 L568 267 L573 267 L578 267 L584 267 L589 267 L594 267 L599 267 L604 267 L609 267 L614 270 L619 276 L625 276 L630 276 L635 276 L640 276 L645 276 L651 276 L656 276 L661 276 L666 276 L671 276 L676 276 L681 276 L686 276 L691 276 L696 276 L701 276 L706 276 L711 276 L716 276 L721 276 L725 276 L730 276 L735 276 L740 276 L745 276 L750 276 L755 276 L760 276 L765 276 L770 276 L775 276 L780 276 L785 276 L790 276 L795 276 L801 276 L806 276 L811 276 L816 276 L820 276 L825 276 L830 276 L835 276 L840 276 L845 276 L849 276 L854 276 L859 276 L864 276 L869 276 L874 276 L878 276 L883 276 L888 276 L893 276 L899 276 L904 276 L909 301 L915 301 L920 301 L925 301 L930 301 L935 301 L940 301 L946 301 L951 301 L956 301 L961 301 L966 301 L971 301 L976 301 L981 301 L986 301 L991 301 L996 301 L1001 301 L1006 301 L1010 301 L1015 301 L1020 301 L1025 301 L1030 301 L1035 301 L1040 301 L1045 301 L1050 301 L1055 301 L1060 301 L1065 301 L1070 301 L1075 301 L1080 301 L1085 270 L1091 273 L1096 273 L1101 273 L1107 281 L1112 281 L1117 245 L1122 276 L1127 267 L1132 264 L1137 264 L1142 264 L1147 264 L1152 264 L1157 264 L1162 264 L1167 264 L1172 264 L1178 264 L1183 264 L1188 264 L1193 264 L1198 264 L1203 264 L1208 264 L1213 264 L1218 264 L1223 264 L1228 264 L1233 264 L1238 264 L1243 264 L1248 264 L1253 264 L1258 264 L1264 264 L1269 264 L1274 264 L1279 264 L1284 264 L1289 264 L1294 264 L1299 264 L1304 264 L1309 264 L1314 264 L1319 264 L1324 264 L1329 264 L1334 264 L1339 264 L1345 264 L1350 264 L1355 264 L1360 264 L1365 264 L1370 264 L1375 264 L1380 264 L1385 264 L1390 264 L1395 264 L1400 264 L1405 264 L1411 264 L1416 264 L1421 264 L1426 264 L1431 264 L1436 264 L1441 264" stroke="#dd181f" stroke-width="2" fill="none" stroke-linejoin="round" shape-rendering="crispEdges"/>
<path d="M90.1 314.1h7.8v7.8h-7.8zM95.1 314.1h7.8v7.8h-7.8zM100.1 314.1h7.8v7.8h-7.8zM105.1 314.1h7.8v7.8h-7.8zM110.1 314.1h7.8v7.8h-7.8zM115.1 314.1h7.8v7.8h-7.8zM120.1 314.1h7.8v7.8h-7.8zM125.1 314.1h7.8v7.8h-7.8zM130.1 314.1h7.8v7.8h-7.8zM135.1 246.1h7.8v7.8h-7.8zM141.1 249.1h7.8v7.8h-7.8zM146.1 249.1h7.8v7.8h-7.8zM151.1 249.1h7.8v7.8h-7.8zM156.1 249.1h7.8v7.8h-7.8zM161.1 249.1h7.8v7.8h-7.8zM166.1 249.1h7.8v7.8h-7.8zM172.1 249.1h7.8v7.8h-7.8zM177.1 249.1h7.8v7.8h-7.8zM182.1 249.1h7.8v7.8h-7.8zM187.1 246.1h7.8v7.8h-7.8zM192.1 246.1h7.8v7.8h-7.8zM197.1 246.1h7.8v7.8h-7.8zM202.1 246.1h7.8v7.8h-7.8zM207.1 246.1h7.8v7.8h-7.8zM212.1 246.1h7.8v7.8h-7.8zM217.1 246.1h7.8v7.8h-7.8zM222.1 246.1h7.8v7.8h-7.8zM227.1 246.1h7.8v7.8h-7.8zM232.1 246.1h7.8v7.8h-7.8zM237.1 246.1h7.8v7.8h-7.8zM242.1 246.1h7.8v7.8h-7.8zM247.1 246.1h7.8v7.8h-7.8zM252.1 246.1h7.8v7.8h-7.8zM257.1 246.1h7.8v7.8h-7.8zM262.1 246.1h7.8v7.8h-7.8zM267.1 246.1h7.8v7.8h-7.8zM272.1 246.1h7.8v7.8h-7.8zM277.1 246.1h7.8v7.8h-7.8zM282.1 246.1h7.8v7.8h-7.8zM287.1 246.1h7.8v7.8h-7.8zM292.1 246.1h7.8v7.8h-7.8zM297.1 246.1h7.8v7.8h-7.8zM302.1 246.1h7.8v7.8h-7.8zM307.1 246.1h7.8v7.8h-7.8zM312.1 246.1h7.8v7.8h-7.8zM317.1 246.1h7.8v7.8h-7.8zM322.1 246.1h7.8v7.8h-7.8zM327.1 246.1h7.8v7.8h-7.8zM332.1 246.1h7.8v7.8h-7.8zM337.1 246.1h7.8v7.8h-7.8zM342.1 246.1h7.8v7.8h-7.8zM347.1 246.1h7.8v7.8h-7.8zM352.1 221.1h7.8v7.8h-7.8zM358.1 249.1h7.8v7.8h-7.8zM363.1 263.1h7.8v7.8h-7.8zM368.1 263.1h7.8v7.8h-7.8zM373.1 263.1h7.8v7.8h-7.8zM379.1 263.1h7.8v7.8h-7.8zM384.1 263.1h7.8v7.8h-7.8zM389.1 263.1h7.8v7.8h-7.8zM394.1 263.1h7.8v7.8h-7.8zM399.1 263.1h7.8v7.8h-7.8zM404.1 263.1h7.8v7.8h-7.8zM410.1 263.1h7.8v7.8h-7.8zM415.1 263.1h7.8v7.8h-7.8zM420.1 263.1h7.8v7.8h-7.8zM425.1 263.1h7.8v7.8h-7.8zM430.1 263.1h7.8v7.8h-7.8zM435.1 263.1h7.8v7.8h-7.8zM440.1 263.1h7.8v7.8h-7.8zM444.1 263.1h7.8v7.8h-7.8zM449.1 263.1h7.8v7.8h-7.8zM454.1 263.1h7.8v7.8h-7.8zM459.1 263.1h7.8v7.8h-7.8zM464.1 263.1h7.8v7.8h-7.8zM469.1 263.1h7.8v7.8h-7.8zM474.1 263.1h7.8v7.8h-7.8zM479.1 263.1h7.8v7.8h-7.8zM484.1 263.1h7.8v7.8h-7.8zM489.1 263.1h7.8v7.8h-7.8zM494.1 263.1h7.8v7.8h-7.8zM498.1 263.1h7.8v7.8h-7.8zM503.1 263.1h7.8v7.8h-7.8zM508.1 263.1h7.8v7.8h-7.8zM513.1 263.1h7.8v7.8h-7.8zM518.1 263.1h7.8v7.8h-7.8zM523.1 263.1h7.8v7.8h-7.8zM528.1 263.1h7.8v7.8h-7.8zM533.1 263.1h7.8v7.8h-7.8zM538.1 263.1h7.8v7.8h-7.8zM543.1 263.1h7.8v7.8h-7.8zM548.1 263.1h7.8v7.8h-7.8zM554.1 263.1h7.8v7.8h-7.8zM559.1 263.1h7.8v7.8h-7.8zM564.1 263.1h7.8v7.8h-7.8zM569.1 263.1h7.8v7.8h-7.8zM574.1 263.1h7.8v7.8h-7.8zM580.1 263.1h7.8v7.8h-7.8zM585.1 263.1h7.8v7.8h-7.8zM590.1 263.1h7.8v7.8h-7.8zM595.1 263.1h7.8v7.8h-7.8zM600.1 263.1h7.8v7.8h-7.8zM605.1 263.1h7.8v7.8h-7.8zM610.1 266.1h7.8v7.8h-7.8zM615.1 272.1h7.8v7.8h-7.8zM621.1 272.1h7.8v7.8h-7.8zM626.1 272.1h7.8v7.8h-7.8zM631.1 272.1h7.8v7.8h-7.8zM636.1 272.1h7.8v7.8h-7.8zM641.1 272.1h7.8v7.8h-7.8zM647.1 272.1h7.8v7.8h-7.8zM652.1 272.1h7.8v7.8h-7.8zM657.1 272.1h7.8v7.8h-7.8zM662.1 272.1h7.8v7.8h-7.8zM667.1 272.1h7.8v7.8h-7.8zM672.1 272.1h7.8v7.8h-7.8zM677.1 272.1h7.8v7.8h-7.8zM682.1 272.1h7.8v7.8h-7.8zM687.1 272.1h7.8v7.8h-7.8zM692.1 272.1h7.8v7.8h-7.8zM697.1 272.1h7.8v7.8h-7.8zM702.1 272.1h7.8v7.8h-7.8zM707.1 272.1h7.8v7.8h-7.8zM712.1 272.1h7.8v7.8h-7.8zM717.1 272.1h7.8v7.8h-7.8zM721.1 272.1h7.8v7.8h-7.8zM726.1 272.1h7.8v7.8h-7.8zM731.1 272.1h7.8v7.8h-7.8zM736.1 272.1h7.8v7.8h-7.8zM741.1 272.1h7.8v7.8h-7.8zM746.1 272.1h7.8v7.8h-7.8zM751.1 272.1h7.8v7.8h-7.8zM756.1 272.1h7.8v7.8h-7.8zM761.1 272.1h7.8v7.8h-7.8zM766.1 272.1h7.8v7.8h-7.8zM771.1 272.1h7.8v7.8h-7.8zM776.1 272.1h7.8v7.8h-7.8zM781.1 272.1h7.8v7.8h-7.8zM786.1 272.1h7.8v7.8h-7.8zM791.1 272.1h7.8v7.8h-7.8zM797.1 272.1h7.8v7.8h-7.8zM802.1 272.1h7.8v7.8h-7.8zM807.1 272.1h7.8v7.8h-7.8zM812.1 272.1h7.8v7.8h-7.8zM816.1 272.1h7.8v7.8h-7.8zM821.1 272.1h7.8v7.8h-7.8zM826.1 272.1h7.8v7.8h-7.8zM831.1 272.1h7.8v7.8h-7.8zM836.1 272.1h7.8v7.8h-7.8zM841.1 272.1h7.8v7.8h-7.8zM845.1 272.1h7.8v7.8h-7.8zM850.1 272.1h7.8v7.8h-7.8zM855.1 272.1h7.8v7.8h-7.8zM860.1 272.1h7.8v7.8h-7.8zM865.1 272.1h7.8v7.8h-7.8zM870.1 272.1h7.8v7.8h-7.8zM874.1 272.1h7.8v7.8h-7.8zM879.1 272.1h7.8v7.8h-7.8zM884.1 272.1h7.8v7.8h-7.8zM889.1 272.1h7.8v7.8h-7.8zM895.1 272.1h7.8v7.8h-7.8zM900.1 272.1h7.8v7.8h-7.8zM905.1 297.1h7.8v7.8h-7.8zM911.1 297.1h7.8v7.8h-7.8zM916.1 297.1h7.8v7.8h-7.8zM921.1 297.1h7.8v7.8h-7.8zM926.1 297.1h7.8v7.8h-7.8zM931.1 297.1h7.8v7.8h-7.8zM936.1 297.1h7.8v7.8h-7.8zM942.1 297.1h7.8v7.8h-7.8zM947.1 297.1h7.8v7.8h-7.8zM952.1 297.1h7.8v7.8h-7.8zM957.1 297.1h7.8v7.8h-7.8zM962.1 297.1h7.8v7.8h-7.8zM967.1 297.1h7.8v7.8h-7.8zM972.1 297.1h7.8v7.8h-7.8zM977.1 297.1h7.8v7.8h-7.8zM982.1 297.1h7.8v7.8h-7.8zM987.1 297.1h7.8v7.8h-7.8zM992.1 297.1h7.8v7.8h-7.8zM997.1 297.1h7.8v7.8h-7.8zM1002.1 297.1h7.8v7.8h-7.8zM1006.1 297.1h7.8v7.8h-7.8zM1011.1 297.1h7.8v7.8h-7.8zM1016.1 297.1h7.8v7.8h-7.8zM1021.1 297.1h7.8v7.8h-7.8zM1026.1 297.1h7.8v7.8h-7.8zM1031.1 297.1h7.8v7.8h-7.8zM1036.1 297.1h7.8v7.8h-7.8zM1041.1 297.1h7.8v7.8h-7.8zM1046.1 297.1h7.8v7.8h-7.8zM1051.1 297.1h7.8v7.8h-7.8zM1056.1 297.1h7.8v7.8h-7.8zM1061.1 297.1h7.8v7.8h-7.8zM1066.1 297.1h7.8v7.8h-7.8zM1071.1 297.1h7.8v7.8h-7.8zM1076.1 297.1h7.8v7.8h-7.8zM1081.1 266.1h7.8v7.8h-7.8zM1087.1 269.1h7.8v7.8h-7.8zM1092.1 269.1h7.8v7.8h-7.8zM1097.1 269.1h7.8v7.8h-7.8zM1103.1 277.1h7.8v7.8h-7.8zM1108.1 277.1h7.8v7.8h-7.8zM1113.1 241.1h7.8v7.8h-7.8zM1118.1 272.1h7.8v7.8h-7.8zM1123.1 263.1h7.8v7.8h-7.8zM1128.1 260.1h7.8v7.8h-7.8zM1133.1 260.1h7.8v7.8h-7.8zM1138.1 260.1h7.8v7.8h-7.8zM1143.1 260.1h7.8v7.8h-7.8zM1148.1 260.1h7.8v7.8h-7.8zM1153.1 260.1h7.8v7.8h-7.8zM1158.1 260.1h7.8v7.8h-7.8zM1163.1 260.1h7.8v7.8h-7.8zM1168.1 260.1h7.8v7.8h-7.8zM1174.1 260.1h7.8v7.8h-7.8zM1179.1 260.1h7.8v7.8h-7.8zM1184.1 260.1h7.8v7.8h-7.8zM1189.1 260.1h7.8v7.8h-7.8zM1194.1 260.1h7.8v7.8h-7.8zM1199.1 260.1h7.8v7.8h-7.8zM1204.1 260.1h7.8v7.8h-7.8zM1209.1 260.1h7.8v7.8h-7.8zM1214.1 260.1h7.8v7.8h-7.8zM1219.1 260.1h7.8v7.8h-7.8zM1224.1 260.1h7.8v7.8h-7.8zM1229.1 260.1h7.8v7.8h-7.8zM1234.1 260.1h7.8v7.8h-7.8zM1239.1 260.1h7.8v7.8h-7.8zM1244.1 260.1h7.8v7.8h-7.8zM1249.1 260.1h7.8v7.8h-7.8zM1254.1 260.1h7.8v7.8h-7.8zM1260.1 260.1h7.8v7.8h-7.8zM1265.1 260.1h7.8v7.8h-7.8zM1270.1 260.1h7.8v7.8h-7.8zM1275.1 260.1h7.8v7.8h-7.8zM1280.1 260.1h7.8v7.8h-7.8zM1285.1 260.1h7.8v7.8h-7.8zM1290.1 260.1h7.8v7.8h-7.8zM1295.1 260.1h7.8v7.8h-7.8zM1300.1 260.1h7.8v7.8h-7.8zM1305.1 260.1h7.8v7.8h-7.8zM1310.1 260.1h7.8v7.8h-7.8zM1315.1 260.1h7.8v7.8h-7.8zM1320.1 260.1h7.8v7.8h-7.8zM1325.1 260.1h7.8v7.8h-7.8zM1330.1 260.1h7.8v7.8h-7.8zM1335.1 260.1h7.8v7.8h-7.8zM1341.1 260.1h7.8v7.8h-7.8zM1346.1 260.1h7.8v7.8h-7.8zM1351.1 260.1h7.8v7.8h-7.8zM1356.1 260.1h7.8v7.8h-7.8zM1361.1 260.1h7.8v7.8h-7.8zM1366.1 260.1h7.8v7.8h-7.8zM1371.1 260.1h7.8v7.8h-7.8zM1376.1 260.1h7.8v7.8h-7.8zM1381.1 260.1h7.8v7.8h-7.8zM1386.1 260.1h7.8v7.8h-7.8zM1391.1 260.1h7.8v7.8h-7.8zM1396.1 260.1h7.8v7.8h-7.8zM1401.1 260.1h7.8v7.8h-7.8zM1407.1 260.1h7.8v7.8h-7.8zM1412.1 260.1h7.8v7.8h-7.8zM1417.1 260.1h7.8v7.8h-7.8zM1422.1 260.1h7.8v7.8h-7.8zM1427.1 260.1h7.8v7.8h-7.8zM1432.1 260.1h7.8v7.8h-7.8zM1437.1 260.1h7.8v7.8h-7.8z" fill="#dd181f" stroke="none"/>
<path d="M94.5 339.5V335M94.5 57.5V62M247.5 339.5V335M247.5 57.5V62M400.5 339.5V335M400.5 57.5V62M552.5 339.5V335M552.5 57.5V62M705.5 339.5V335M705.5 57.5V62M858.5 339.5V335M858.5 57.5V62M1011.5 339.5V335M1011.5 57.5V62M1163.5 339.5V335M1163.5 57.5V62M1316.5 339.5V335M1316.5 57.5V62M1469.5 339.5V335M1469.5 57.5V62M94.5 339.5H99M1469.5 339.5H1465M94.5 304.5H99M1469.5 304.5H1465M94.5 268.5H99M1469.5 268.5H1465M94.5 233.5H99M1469.5 233.5H1465M94.5 198.5H99M1469.5 198.5H1465M94.5 163.5H99M1469.5 163.5H1465M94.5 127.5H99M1469.5 127.5H1465M94.5 92.5H99M1469.5 92.5H1465M94.5 57.5H99M1469.5 57.5H1465" stroke="#000" stroke-width="1" fill="none" shape-rendering="crispEdges"/>
<rect x="94.5" y="57.5" width="1375.0" height="282.0" fill="none" stroke="#000" stroke-width="1" shape-rendering="crispEdges"/>
</svg>
</body></html>
